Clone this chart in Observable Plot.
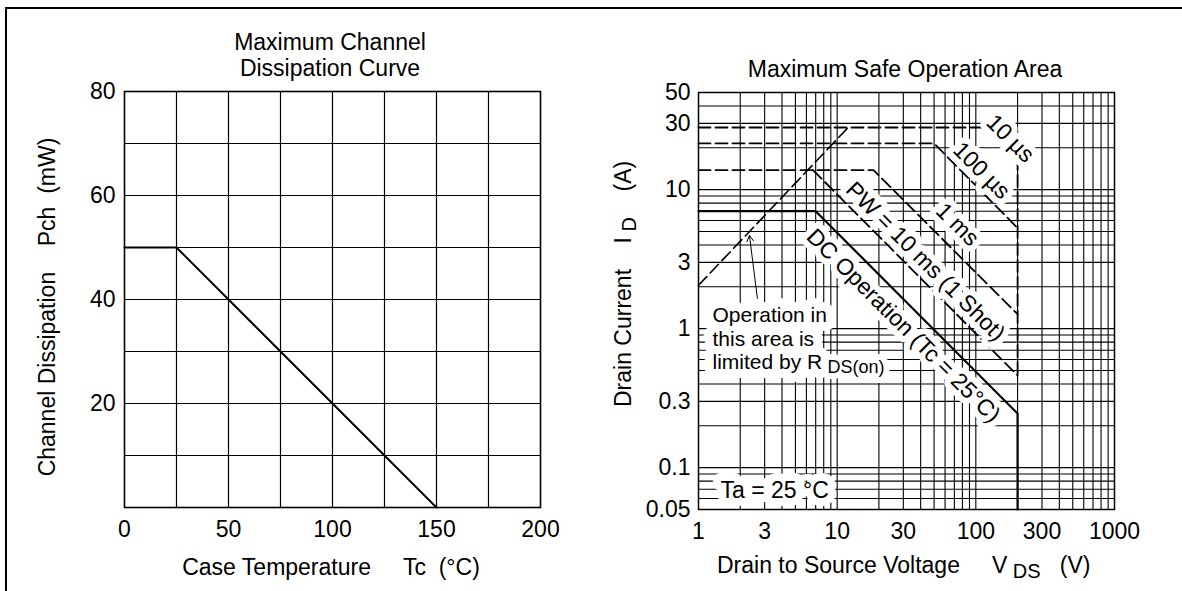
<!DOCTYPE html>
<html><head><meta charset="utf-8">
<script src="https://cdn.jsdelivr.net/npm/d3@7"></script>
<script src="https://cdn.jsdelivr.net/npm/@observablehq/plot@0.6"></script>
<style>
body{margin:0;background:#fff;}
#wrap{position:relative;width:1182px;height:591px;overflow:hidden;background:#fff;font-family:Arial,"Liberation Sans",sans-serif;}
#border{position:absolute;left:5px;top:7px;width:1300px;height:700px;border-top:2px solid #000;border-left:2px solid #000;}
#left{position:absolute;left:0;top:0;}
#right{position:absolute;left:590px;top:0;}
svg{overflow:visible;}
</style></head><body>
<div id="wrap"><div id="border"></div><div id="left"></div><div id="right"></div></div>
<script>
// ---------- Left chart data ----------
const caseTemp = [0, 25, 150];
const channelDiss = [50, 50, 0];
const tempTicks = [0, 50, 100, 150, 200];
const dissTicks = [20, 40, 60, 80];
const tempGrid = [25, 50, 75, 100, 125, 150, 175];
const dissGrid = [10, 20, 30, 40, 50, 60, 70];

// ---------- Right chart data ----------
const vdsTicks = [1, 3, 10, 30, 100, 300, 1000];
const idTicks = [0.05, 0.1, 0.3, 1, 3, 10, 30, 50];
const vdsGrid = [2,3,4,5,6,7,8,9,10,20,30,40,50,60,70,80,90,100,200,300,400,500,600,700,800,900];
const idGrid = [0.06,0.07,0.08,0.09,0.1,0.2,0.3,0.4,0.5,0.6,0.7,0.8,0.9,1,2,3,4,5,6,7,8,9,10,20,30,40];

const vds10us = [1, 121, 200];    const id10us = [28, 28, 16.9];
const vds100us = [1, 50, 200];    const id100us = [21.5, 21.5, 5.3];
const vds1ms = [1, 18.3, 200];    const id1ms = [13.8, 13.8, 1.27];
const vds10ms = [6.7, 200];       const id10ms = [13.8, 0.46];
const vdsDC = [1, 7, 200, 200];   const idDC = [7, 7, 0.245, 0.05];
const vdsMax = [200, 200];        const idMax = [16.9, 0.46];
const vdsRds = [1, 12];           const idRds = [2.05, 28];

const curveLabels = ["10 µs", "100 µs", "1 ms", "PW = 10 ms (1 Shot)", "DC Operation (Tc = 25°C)"];
const labelVds = [177, 110, 73.7, 43.3, 30.1];
const labelId = [23.3, 13.7, 5.61, 3.04, 1.05];

const noteText = ["Operation in\nthis area is\nlimited by R"];
const noteVds = [1.262], noteId = [0.85];
const noteSub = ["DS(on)"];
const noteSubVds = [8.5], noteSubId = [0.53];
const tempNote = ["Ta = 25 °C"];
const tempNoteVds = [1.44], tempNoteId = [0.0685];
const arrowFrom = [2.66, 1.65], arrowTo = [2.33, 4.68];

// ---------- helpers ----------
const FONT = "Arial, 'Liberation Sans', sans-serif";
const NB = "\u00a0";
const pts = (vs, is) => vs.map((v, k) => ({v, i: is[k]}));

function rich(parts, {x, y, rotate = 0, anchor = "middle", size = 23, subShift = 5}) {
  return () => {
    const g = d3.create("svg:g").attr("transform", `translate(${x},${y}) rotate(${rotate})`);
    const t = g.append("text").attr("text-anchor", anchor).attr("font-size", size)
      .attr("y", size * 0.36).attr("fill", "#000").attr("font-family", FONT);
    let shift = 0;
    for (const p of parts) {
      const s = t.append("tspan").text(p.text);
      const target = p.sub ? subShift : 0;
      if (target !== shift) { s.attr("dy", target - shift); shift = target; }
      if (p.sub) s.attr("font-size", size * 0.87);
    }
    return g.node();
  };
}

// white backing (halo) layer, then the glyph layer on top
function haloText(data, opts, halo) {
  return [
    Plot.text(data, {...opts, fill: "#fff", stroke: "#fff", strokeWidth: halo, strokeLinejoin: "round"}),
    Plot.text(data, {...opts, fill: "#000"})
  ];
}

// ---------- Left chart ----------
const left = Plot.plot({
  width: 590, height: 591,
  marginLeft: 124, marginRight: 50, marginTop: 91, marginBottom: 84,
  style: {fontFamily: FONT, background: "transparent"},
  x: {domain: [0, 200]},
  y: {domain: [0, 80]},
  marks: [
    Plot.ruleX(tempGrid, {stroke: "#000", strokeWidth: 1.2}),
    Plot.ruleY(dissGrid, {stroke: "#000", strokeWidth: 1.2}),
    Plot.frame({stroke: "#000", strokeWidth: 1.6}),
    Plot.line(pts(caseTemp, channelDiss), {x: "v", y: "i", stroke: "#000", strokeWidth: 2}),
    Plot.axisX(tempTicks, {tickSize: 0, tickPadding: 13, fontSize: 23, label: null, tickFormat: d => String(d)}),
    Plot.axisY(dissTicks, {tickSize: 0, tickPadding: 9, fontSize: 23, label: null, tickFormat: d => String(d)}),
    rich([{text: "Maximum Channel"}], {x: 330, y: 42}),
    rich([{text: "Dissipation Curve"}], {x: 330, y: 68}),
    rich([{text: "Case Temperature" + NB.repeat(5) + "Tc" + NB.repeat(2) + "(°C)"}], {x: 331, y: 567}),
    rich([{text: "Channel Dissipation" + NB.repeat(4) + "Pch" + NB.repeat(2) + "(mW)"}], {x: 47, y: 307, rotate: -90})
  ]
});
document.getElementById("left").appendChild(left);

// ---------- Right chart ----------
const right = Plot.plot({
  width: 592, height: 591,
  marginLeft: 108, marginRight: 68, marginTop: 92, marginBottom: 82,
  style: {fontFamily: FONT, background: "transparent"},
  x: {type: "log", domain: [1, 1000], axis: null},
  y: {type: "log", domain: [0.05, 50], axis: null},
  marks: [
    Plot.ruleX(vdsGrid, {stroke: "#000", strokeWidth: 1.1}),
    Plot.ruleY(idGrid, {stroke: "#000", strokeWidth: 1.1}),
    Plot.frame({stroke: "#000", strokeWidth: 1.5}),
    Plot.line(pts(vds10us, id10us), {x: "v", y: "i", stroke: "#000", strokeWidth: 1.8, strokeDasharray: "12,5"}),
    Plot.line(pts(vds100us, id100us), {x: "v", y: "i", stroke: "#000", strokeWidth: 1.8, strokeDasharray: "12,5"}),
    Plot.line(pts(vds1ms, id1ms), {x: "v", y: "i", stroke: "#000", strokeWidth: 1.8, strokeDasharray: "12,5"}),
    Plot.line(pts(vds10ms, id10ms), {x: "v", y: "i", stroke: "#000", strokeWidth: 1.8, strokeDasharray: "12,5"}),
    Plot.line(pts(vdsMax, idMax), {x: "v", y: "i", stroke: "#000", strokeWidth: 1.8, strokeDasharray: "12,5"}),
    Plot.line(pts(vdsRds, idRds), {x: "v", y: "i", stroke: "#000", strokeWidth: 1.6, strokeDasharray: "12,5"}),
    Plot.line(pts(vdsDC, idDC), {x: "v", y: "i", stroke: "#000", strokeWidth: 2.2}),
    Plot.arrow([0], {x1: () => arrowFrom[0], y1: () => arrowFrom[1], x2: () => arrowTo[0], y2: () => arrowTo[1],
      stroke: "#000", strokeWidth: 1, headLength: 10}),
    ...haloText(curveLabels, {x: (d, k) => labelVds[k], y: (d, k) => labelId[k], text: d => d, rotate: 45,
      fontSize: 23}, 12),
    ...haloText(noteText, {x: (d, k) => noteVds[k], y: (d, k) => noteId[k], text: d => d, textAnchor: "start",
      lineAnchor: "middle", lineHeight: 1.12, fontSize: 21}, 18),
    ...haloText(noteSub, {x: (d, k) => noteSubVds[k], y: (d, k) => noteSubId[k], text: d => d, textAnchor: "start",
      fontSize: 18}, 12),
    ...haloText(tempNote, {x: (d, k) => tempNoteVds[k], y: (d, k) => tempNoteId[k], text: d => d, textAnchor: "start",
      fontSize: 23}, 16),
    // tick labels drawn as text so that the domain-edge values 0.05 and 50 are kept
    Plot.text(vdsTicks, {x: d => d, frameAnchor: "bottom", lineAnchor: "top", dy: 13, text: d => String(d),
      fontSize: 23, fill: "#000"}),
    Plot.text(idTicks, {y: d => d, frameAnchor: "left", textAnchor: "end", dx: -8, text: d => String(d),
      fontSize: 23, fill: "#000"}),
    rich([{text: "Maximum Safe Operation Area"}], {x: 315, y: 69}),
    rich([{text: "Drain to Source Voltage" + NB.repeat(5) + "V"}, {text: NB + "DS", sub: true}, {text: NB.repeat(3) + "(V)"}],
      {x: 127, y: 565, anchor: "start"}),
    rich([{text: "Drain Current" + NB.repeat(4) + "I"}, {text: NB + "D", sub: true}, {text: NB.repeat(4) + "(A)"}],
      {x: 33, y: 407, rotate: -90, anchor: "start"})
  ]
});
document.getElementById("right").appendChild(right);
</script>
</body></html>
